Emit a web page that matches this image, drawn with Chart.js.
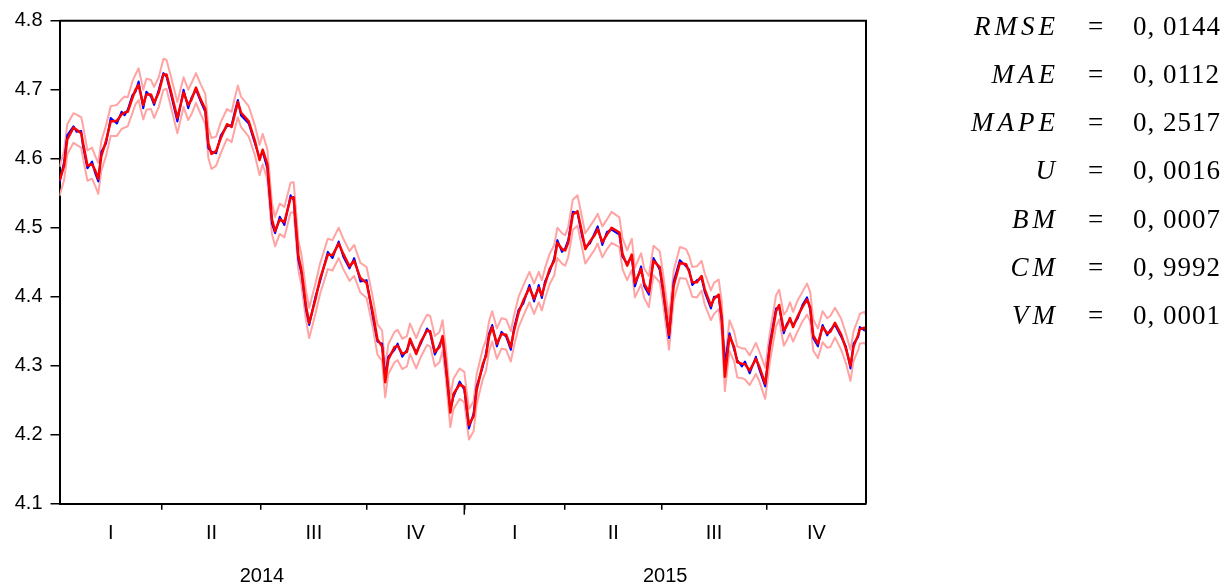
<!DOCTYPE html>
<html>
<head>
<meta charset="utf-8">
<script src="https://cdn.jsdelivr.net/npm/chart.js@4"></script>
<style>
  html, body { margin: 0; padding: 0; background: #fff; }
  #wrap { width: 1227px; height: 586px; }
</style>
</head>
<body>
<div id="wrap"><canvas id="chart" width="1227" height="586"></canvas></div>
<script>
// trading day index (0 = first day of 2014)
const tradingDays = [
  0, 3, 5, 9, 11, 14, 15, 18, 21, 23,
  25, 27, 30, 33, 37, 40, 42, 44, 47, 49,
  51, 54, 56, 59, 61, 64, 67, 69, 72, 76,
  80, 83, 85, 88, 91, 94, 96, 98, 101, 104,
  108, 111, 113, 115, 117, 122, 126, 129, 131, 134,
  137, 139, 142, 145, 149, 151, 154, 156, 159, 161,
  165, 168, 173, 176, 180, 183, 187, 190, 194, 198,
  202, 205, 208, 210, 212, 216, 218, 221, 224, 226,
  230, 233, 237, 239, 242, 245, 247, 249, 252, 254,
  258, 261, 264, 267, 269, 273, 275, 277, 279, 282,
  285, 288, 291, 293, 296, 299, 303, 306, 309, 311,
  313, 316, 319, 321, 324, 326, 328, 331, 334, 337,
  339, 342, 345, 347, 350, 353, 356, 361, 363, 366,
  369, 371, 375, 377, 380, 383, 387, 389, 393, 396,
  400, 404, 406, 408, 411, 414, 416, 420, 422, 425,
  427, 429, 432, 435, 437, 440, 442, 445, 449, 451,
  455, 458, 462, 464, 467, 469, 471, 473, 476, 479,
  482, 484, 486, 489, 492, 495, 497, 500, 504, 507,
  510, 512, 515, 516, 519, 520
];

const actual = [
  4.565, 4.596, 4.634, 4.647, 4.639, 4.640, 4.620, 4.586, 4.596, 4.579,
  4.567, 4.610, 4.622, 4.659, 4.651, 4.668, 4.663, 4.671, 4.692, 4.697,
  4.712, 4.673, 4.697, 4.690, 4.678, 4.700, 4.724, 4.719, 4.692, 4.654,
  4.700, 4.673, 4.688, 4.700, 4.683, 4.668, 4.615, 4.610, 4.608, 4.634,
  4.647, 4.649, 4.668, 4.685, 4.663, 4.651, 4.622, 4.601, 4.610, 4.586,
  4.506, 4.492, 4.516, 4.504, 4.547, 4.540, 4.453, 4.434, 4.381, 4.359,
  4.400, 4.422, 4.465, 4.456, 4.480, 4.458, 4.441, 4.456, 4.422, 4.424,
  4.371, 4.335, 4.332, 4.284, 4.313, 4.323, 4.332, 4.313, 4.323, 4.335,
  4.320, 4.332, 4.354, 4.347, 4.316, 4.330, 4.340, 4.299, 4.236, 4.255,
  4.277, 4.265, 4.209, 4.231, 4.270, 4.299, 4.318, 4.347, 4.359, 4.328,
  4.349, 4.342, 4.323, 4.354, 4.381, 4.390, 4.417, 4.393, 4.417, 4.398,
  4.422, 4.436, 4.456, 4.482, 4.465, 4.470, 4.482, 4.523, 4.521, 4.487,
  4.472, 4.477, 4.492, 4.502, 4.475, 4.494, 4.497, 4.490, 4.458, 4.448,
  4.458, 4.415, 4.444, 4.415, 4.403, 4.456, 4.439, 4.410, 4.340, 4.422,
  4.453, 4.444, 4.439, 4.417, 4.424, 4.427, 4.407, 4.383, 4.400, 4.400,
  4.366, 4.303, 4.347, 4.323, 4.308, 4.299, 4.306, 4.289, 4.313, 4.296,
  4.270, 4.332, 4.383, 4.385, 4.347, 4.361, 4.366, 4.359, 4.369, 4.388,
  4.399, 4.381, 4.340, 4.328, 4.359, 4.344, 4.352, 4.359, 4.342, 4.328,
  4.296, 4.332, 4.342, 4.356, 4.351, 4.354
];

const forecast = [
  4.568, 4.590, 4.628, 4.645, 4.642, 4.637, 4.625, 4.590, 4.592, 4.583,
  4.571, 4.604, 4.626, 4.654, 4.655, 4.664, 4.667, 4.668, 4.688, 4.700,
  4.707, 4.678, 4.693, 4.693, 4.681, 4.696, 4.722, 4.722, 4.696, 4.659,
  4.696, 4.678, 4.685, 4.703, 4.686, 4.672, 4.622, 4.607, 4.611, 4.630,
  4.650, 4.646, 4.664, 4.682, 4.667, 4.654, 4.626, 4.598, 4.613, 4.592,
  4.512, 4.495, 4.512, 4.508, 4.543, 4.544, 4.460, 4.438, 4.386, 4.362,
  4.396, 4.426, 4.461, 4.460, 4.477, 4.462, 4.444, 4.452, 4.427, 4.420,
  4.377, 4.338, 4.328, 4.276, 4.309, 4.327, 4.329, 4.317, 4.320, 4.339,
  4.317, 4.335, 4.351, 4.350, 4.320, 4.327, 4.343, 4.305, 4.232, 4.259,
  4.273, 4.269, 4.214, 4.227, 4.265, 4.303, 4.314, 4.343, 4.356, 4.332,
  4.346, 4.345, 4.327, 4.350, 4.377, 4.394, 4.413, 4.397, 4.413, 4.402,
  4.418, 4.440, 4.452, 4.478, 4.469, 4.467, 4.478, 4.519, 4.524, 4.492,
  4.469, 4.480, 4.489, 4.498, 4.479, 4.490, 4.500, 4.493, 4.462, 4.445,
  4.461, 4.420, 4.440, 4.419, 4.407, 4.452, 4.443, 4.414, 4.345, 4.416,
  4.449, 4.447, 4.436, 4.421, 4.421, 4.430, 4.411, 4.387, 4.397, 4.403,
  4.370, 4.284, 4.343, 4.327, 4.305, 4.303, 4.302, 4.293, 4.310, 4.300,
  4.274, 4.326, 4.379, 4.388, 4.351, 4.358, 4.369, 4.356, 4.372, 4.385,
  4.396, 4.385, 4.344, 4.332, 4.356, 4.347, 4.349, 4.362, 4.345, 4.325,
  4.300, 4.328, 4.345, 4.353, 4.355, 4.351
];

const upperBand = [
  4.588, 4.612, 4.650, 4.666, 4.664, 4.660, 4.650, 4.612, 4.616, 4.604,
  4.594, 4.626, 4.648, 4.676, 4.678, 4.686, 4.690, 4.689, 4.712, 4.722,
  4.731, 4.700, 4.716, 4.714, 4.704, 4.718, 4.745, 4.743, 4.718, 4.682,
  4.718, 4.700, 4.709, 4.724, 4.708, 4.694, 4.645, 4.630, 4.632, 4.653,
  4.672, 4.668, 4.688, 4.706, 4.690, 4.676, 4.648, 4.620, 4.636, 4.614,
  4.535, 4.516, 4.535, 4.530, 4.565, 4.566, 4.482, 4.461, 4.408, 4.384,
  4.419, 4.448, 4.484, 4.482, 4.500, 4.484, 4.466, 4.475, 4.449, 4.443,
  4.399, 4.360, 4.351, 4.298, 4.331, 4.349, 4.352, 4.339, 4.343, 4.361,
  4.340, 4.357, 4.374, 4.372, 4.343, 4.349, 4.366, 4.327, 4.255, 4.281,
  4.296, 4.291, 4.237, 4.249, 4.288, 4.325, 4.337, 4.365, 4.379, 4.354,
  4.369, 4.367, 4.350, 4.372, 4.400, 4.416, 4.436, 4.419, 4.436, 4.424,
  4.441, 4.462, 4.475, 4.500, 4.492, 4.489, 4.501, 4.541, 4.547, 4.514,
  4.492, 4.502, 4.512, 4.520, 4.502, 4.512, 4.523, 4.515, 4.485, 4.467,
  4.484, 4.442, 4.463, 4.441, 4.430, 4.474, 4.466, 4.436, 4.368, 4.438,
  4.472, 4.469, 4.459, 4.443, 4.444, 4.452, 4.434, 4.409, 4.420, 4.425,
  4.393, 4.306, 4.366, 4.349, 4.328, 4.325, 4.325, 4.315, 4.333, 4.322,
  4.297, 4.348, 4.402, 4.410, 4.374, 4.380, 4.392, 4.378, 4.395, 4.407,
  4.419, 4.407, 4.367, 4.354, 4.379, 4.369, 4.372, 4.384, 4.368, 4.347,
  4.323, 4.350, 4.368, 4.375, 4.378, 4.373
];

const lowerBand = [
  4.546, 4.569, 4.606, 4.623, 4.620, 4.616, 4.603, 4.568, 4.571, 4.561,
  4.549, 4.583, 4.604, 4.633, 4.633, 4.643, 4.645, 4.647, 4.666, 4.679,
  4.685, 4.657, 4.671, 4.672, 4.659, 4.675, 4.700, 4.701, 4.674, 4.637,
  4.675, 4.656, 4.664, 4.681, 4.665, 4.650, 4.601, 4.585, 4.590, 4.608,
  4.629, 4.624, 4.643, 4.660, 4.646, 4.632, 4.605, 4.576, 4.592, 4.570,
  4.491, 4.473, 4.491, 4.486, 4.522, 4.522, 4.439, 4.416, 4.365, 4.340,
  4.375, 4.404, 4.440, 4.438, 4.456, 4.440, 4.423, 4.430, 4.406, 4.398,
  4.356, 4.316, 4.307, 4.254, 4.288, 4.305, 4.308, 4.295, 4.299, 4.317,
  4.296, 4.313, 4.330, 4.328, 4.299, 4.305, 4.322, 4.283, 4.211, 4.237,
  4.252, 4.247, 4.193, 4.205, 4.244, 4.281, 4.293, 4.321, 4.335, 4.310,
  4.325, 4.323, 4.306, 4.328, 4.356, 4.372, 4.392, 4.375, 4.392, 4.380,
  4.397, 4.418, 4.431, 4.456, 4.448, 4.445, 4.457, 4.497, 4.503, 4.470,
  4.448, 4.458, 4.468, 4.477, 4.457, 4.469, 4.478, 4.472, 4.440, 4.424,
  4.439, 4.399, 4.418, 4.398, 4.385, 4.431, 4.421, 4.393, 4.323, 4.395,
  4.427, 4.426, 4.414, 4.400, 4.399, 4.409, 4.389, 4.366, 4.375, 4.382,
  4.348, 4.263, 4.321, 4.306, 4.283, 4.282, 4.280, 4.272, 4.288, 4.279,
  4.252, 4.305, 4.357, 4.367, 4.329, 4.337, 4.347, 4.335, 4.350, 4.364,
  4.374, 4.364, 4.322, 4.311, 4.334, 4.326, 4.327, 4.341, 4.323, 4.304,
  4.278, 4.307, 4.323, 4.332, 4.333, 4.330
];

const quarterEdges = [0, 66, 130, 198, 261, 326, 388, 456, 520];
const quarterLabels = ["I", "II", "III", "IV", "I", "II", "III", "IV"];
const yearEdges = [0, 261, 520];
const yearLabels = ["2014", "2015"];
const yTicks = [4.1, 4.2, 4.3, 4.4, 4.5, 4.6, 4.7, 4.8];

const statNames = ["RMSE", "MAE", "MAPE", "U", "BM", "CM", "VM"];
const statValues = ["0, 0144", "0, 0112", "0, 2517", "0, 0016", "0, 0007", "0, 9992", "0, 0001"];

const toPoints = (values) => tradingDays.map((d, i) => ({ x: d, y: values[i] }));

const sansFont = "'Liberation Sans', Arial, sans-serif";
const serifFont = "'Liberation Serif', 'Times New Roman', serif";

// frame top/right, year tick, quarter + year labels, statistics block
const decorations = {
  id: "decorations",
  afterDraw(chart) {
    const { ctx, chartArea } = chart;
    const x = chart.scales.x;
    ctx.save();
    ctx.strokeStyle = "#000";
    ctx.lineWidth = 2;
    ctx.beginPath();
    ctx.moveTo(chartArea.left, chartArea.top);
    ctx.lineTo(chartArea.right, chartArea.top);
    ctx.lineTo(chartArea.right, chartArea.bottom);
    ctx.stroke();

    ctx.lineWidth = 1.5;
    ctx.beginPath();
    yearEdges.slice(1, -1).forEach((v) => {
      const px = x.getPixelForValue(v);
      ctx.moveTo(px, chartArea.bottom);
      ctx.lineTo(px, chartArea.bottom + 11);
    });
    ctx.stroke();

    ctx.fillStyle = "#000";
    ctx.textAlign = "center";
    ctx.textBaseline = "middle";
    ctx.font = "20px " + sansFont;
    quarterLabels.forEach((lab, i) => {
      const mid = (quarterEdges[i] + quarterEdges[i + 1]) / 2;
      ctx.fillText(lab, x.getPixelForValue(mid), 533);
    });
    yearLabels.forEach((lab, i) => {
      const mid = (yearEdges[i] + yearEdges[i + 1]) / 2;
      ctx.fillText(lab, x.getPixelForValue(mid), 576);
    });

    ctx.textBaseline = "alphabetic";
    statNames.forEach((name, i) => {
      const base = 34.5 + i * 48.3;
      ctx.font = "italic 27px " + serifFont;
      ctx.letterSpacing = "4px";
      ctx.textAlign = "right";
      ctx.fillText(name, 1059, base);
      ctx.font = "27px " + serifFont;
      ctx.letterSpacing = "0px";
      ctx.textAlign = "center";
      ctx.fillText("=", 1095.5, base);
      ctx.letterSpacing = "1px";
      ctx.textAlign = "left";
      ctx.fillText(statValues[i], 1133, base);
    });
    ctx.restore();
  },
};

new Chart(document.getElementById("chart"), {
  type: "line",
  data: {
    datasets: [
      { label: "Forecast", data: toPoints(forecast), borderColor: "#ff0000", borderWidth: 2.5, order: 0 },
      { label: "Actual", data: toPoints(actual), borderColor: "#0000ff", borderWidth: 2, order: 1 },
      { label: "Upper", data: toPoints(upperBand), borderColor: "#ffa3a3", borderWidth: 2, order: 2 },
      { label: "Lower", data: toPoints(lowerBand), borderColor: "#ffa3a3", borderWidth: 2, order: 3 },
    ],
  },
  options: {
    responsive: false,
    animation: false,
    devicePixelRatio: 1,
    layout: { padding: { top: 20.7, right: 361, bottom: 0, left: 0 } },
    elements: { point: { radius: 0 }, line: { tension: 0, borderJoinStyle: "round" } },
    plugins: { legend: { display: false }, tooltip: { enabled: false } },
    scales: {
      x: {
        type: "linear",
        min: quarterEdges[0],
        max: quarterEdges[quarterEdges.length - 1],
        afterBuildTicks: (axis) => { axis.ticks = quarterEdges.slice(1, -1).map((v) => ({ value: v })); },
        afterFit: (axis) => { axis.height = 82.3; },
        ticks: { display: false },
        grid: { display: true, drawOnChartArea: false, drawTicks: true, tickLength: 6, color: "#000", lineWidth: 1.5 },
        border: { display: true, color: "#000", width: 2 },
      },
      y: {
        min: 4.1,
        max: 4.8,
        afterBuildTicks: (axis) => { axis.ticks = yTicks.map((v) => ({ value: v })); },
        afterFit: (axis) => { axis.width = 59.5; },
        ticks: {
          color: "#000",
          font: { family: sansFont, size: 20 },
          padding: 8,
          callback: (v) => Number(v).toFixed(1),
        },
        grid: { display: true, drawOnChartArea: false, drawTicks: true, tickLength: 9, color: "#000", lineWidth: 1.5 },
        border: { display: true, color: "#000", width: 2 },
      },
    },
  },
  plugins: [decorations],
});
</script>
</body>
</html>
